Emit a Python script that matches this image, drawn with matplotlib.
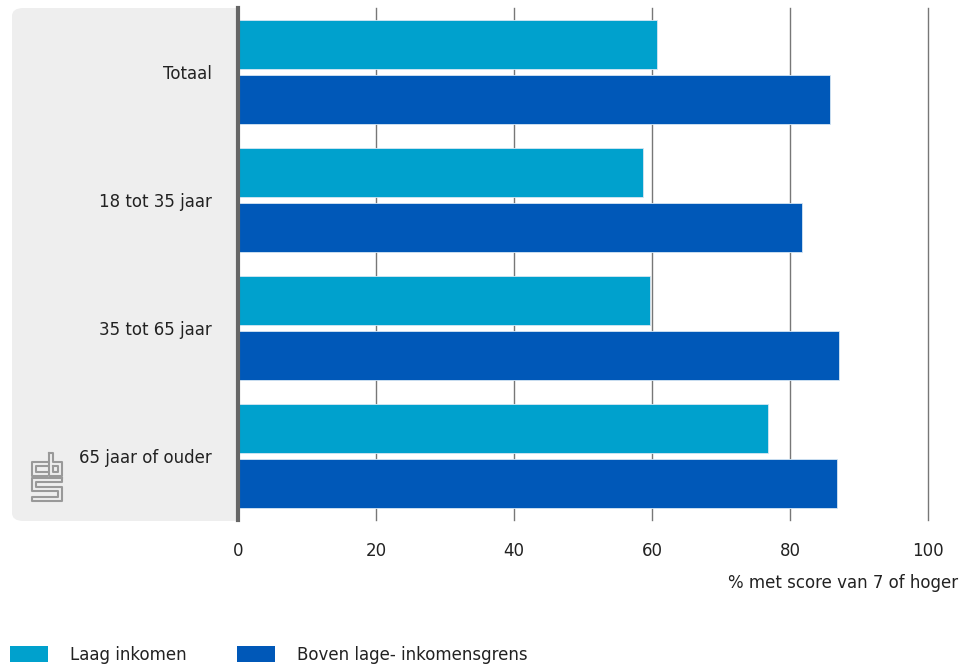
import numpy as np
import matplotlib.pyplot as plt
from matplotlib.patches import FancyBboxPatch, Rectangle, Patch
from matplotlib.lines import Line2D

plt.rcParams['font.family'] = ['Liberation Sans Narrow', 'DejaVu Sans']

categories = ['Totaal', '18 tot 35 jaar', '35 tot 65 jaar', '65 jaar of ouder']
laag = [60.7, 58.7, 59.7, 76.8]
boven = [85.8, 81.7, 87.1, 86.8]
series_names = ['Laag inkomen', 'Boven lage- inkomensgrens']
colors = ['#00A1CD', '#0058B8']
xticks = [0, 20, 40, 60, 80, 100]
xlabel = '% met score van 7 of hoger'

W, H = 968, 668


def px(x, y):
    return x / W, 1 - y / H


fig = plt.figure(figsize=(W / 100, H / 100), dpi=100)

# grey panel behind the category labels
x0, y0 = px(12, 521)
x1, y1 = px(239, 8)
panel = FancyBboxPatch((x0, y0), x1 - x0, y1 - y0,
                       boxstyle='round,pad=0,rounding_size=0.012',
                       transform=fig.transFigure, facecolor='#EEEEEE',
                       edgecolor='none', zorder=-2)
fig.patches.append(panel)
xa, _ = px(200, 0)
fig.patches.append(Rectangle((xa, y0), x1 - xa, y1 - y0, transform=fig.transFigure,
                             facecolor='#EEEEEE', edgecolor='none', zorder=-2))

left, bottom = px(238, 520)
right, top = px(928, 8)
ax = fig.add_axes([left, bottom, right - left, top - bottom])
ax.patch.set_alpha(0)

y = np.arange(len(categories))
h = 0.39
gap = 0.02
ax.barh(y - h / 2 - gap, laag, height=h, color=colors[0],
        edgecolor='#d6e6f3', linewidth=0.6, zorder=3)
ax.barh(y + h / 2 + gap, boven, height=h, color=colors[1],
        edgecolor='#d6e6f3', linewidth=0.6, zorder=3)

ax.set_ylim(len(categories) - 0.5, -0.5)
ax.set_xlim(0, 100)
ax.set_xticks(xticks)
ax.set_xticklabels([str(t) for t in xticks], fontsize=12, color='#222222')
ax.set_yticks(y)
ax.set_yticklabels(categories, fontsize=12, color='#222222')
ax.tick_params(axis='x', length=0, pad=16)
ax.tick_params(axis='y', length=0, pad=19)
for t in xticks[1:]:
    ax.axvline(t, color='#777777', lw=1, zorder=1, clip_on=False)
for s in ['top', 'right', 'bottom']:
    ax.spines[s].set_visible(False)
ax.spines['left'].set_color('#666666')
ax.spines['left'].set_linewidth(3)
ax.spines['left'].set_zorder(5)

tx, ty = px(958, 583)
fig.text(tx, ty, xlabel, ha='right', va='center', fontsize=12, color='#222222')

# cbs logo (rough)
logo = [
    [(47, 462), (32, 462), (32, 476), (47, 476)],
    [(47, 466), (36, 466), (36, 472), (47, 472)],
    [(49, 453), (49, 476), (62, 476), (62, 462), (53, 462), (53, 453), (49, 453)],
    [(53, 466), (58, 466), (58, 472), (53, 472), (53, 466)],
    [(62, 478), (32, 478), (32, 491), (58, 491), (58, 497), (32, 497), (32, 501),
     (62, 501), (62, 487), (36, 487), (36, 482), (62, 482), (62, 478)],
]
for path in logo:
    xs = [px(a, b)[0] for a, b in path]
    ys = [px(a, b)[1] for a, b in path]
    fig.add_artist(Line2D(xs, ys, transform=fig.transFigure, color='#999999', lw=1.5))

handles = [Patch(facecolor=c, edgecolor='none') for c in colors]
lx, ly = px(10, 668)
fig.legend(handles, series_names, loc='lower left', bbox_to_anchor=(lx, ly + 0.006),
           ncol=2, frameon=False, fontsize=12, handlelength=2.3, handleheight=1.1,
           handletextpad=1.3, columnspacing=3.0, borderpad=0, borderaxespad=0,
           labelcolor='#222222')

fig.savefig('out.png', dpi=100)
